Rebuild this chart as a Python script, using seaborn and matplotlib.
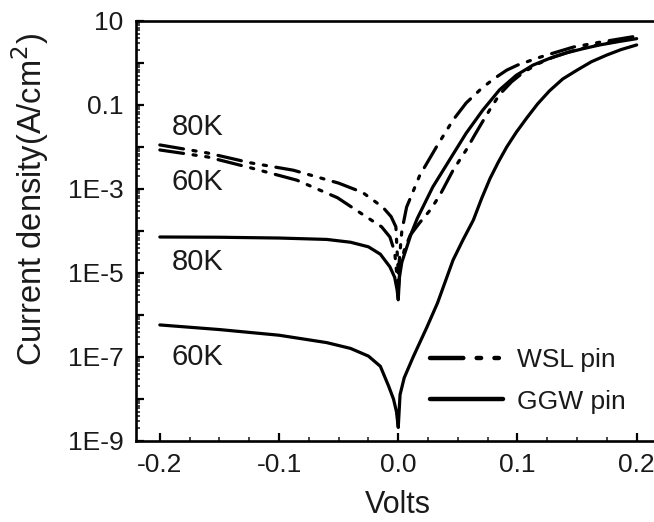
import numpy as np
import pandas as pd
import matplotlib
matplotlib.use("Agg")
import matplotlib.pyplot as plt
from matplotlib.ticker import FixedLocator, FixedFormatter, LogLocator, MultipleLocator
import seaborn as sns

# ---- data ----
ggw80_v = [-0.2, -0.15, -0.1, -0.06, -0.04, -0.025, -0.015, -0.007, -0.003, -0.001, 0.0,
           0.001, 0.003, 0.007, 0.011, 0.016, 0.029, 0.043, 0.057, 0.071, 0.085,
           0.099, 0.113, 0.127, 0.141, 0.155, 0.169, 0.185, 0.2]
ggw80_j = [7.2e-5, 7.1e-5, 6.8e-5, 6.3e-5, 5.4e-5, 4.2e-5, 2.8e-5, 1.4e-5, 7.9e-6, 4.0e-6, 2.3e-6,
           7.9e-6, 1.8e-5, 4.0e-5, 8.9e-5, 2.0e-4, 1.12e-3, 4.9e-3, 2.14e-2, 7.6e-2, 0.23,
           0.51, 0.89, 1.29, 1.74, 2.19, 2.69, 3.24, 3.8]

ggw60_v = [-0.2, -0.15, -0.1, -0.06, -0.04, -0.025, -0.015, -0.008, -0.004, -0.0015, 0.0,
           0.0015, 0.005, 0.0125, 0.024, 0.033, 0.046, 0.0545, 0.063, 0.07, 0.077, 0.084,
           0.091, 0.099, 0.108, 0.117, 0.127, 0.138, 0.15, 0.162, 0.175, 0.187, 0.2]
ggw60_j = [5.8e-7, 4.5e-7, 3.3e-7, 2.2e-7, 1.6e-7, 1.05e-7, 6.0e-8, 2.0e-8, 1.0e-8, 5.0e-9, 2.1e-9,
           1.26e-8, 3.2e-8, 1.0e-7, 5.1e-7, 1.95e-6, 2.04e-5, 6.3e-5, 1.82e-4, 6.0e-4, 1.78e-3, 4.4e-3,
           1.0e-2, 2.24e-2, 5.0e-2, 0.107, 0.219, 0.417, 0.676, 1.07, 1.55, 2.09, 2.69]

wsl80_v = [-0.2, -0.16, -0.124, -0.088, -0.05, -0.03, -0.013, -0.006, -0.002, 0.0,
           0.0015, 0.003, 0.007, 0.018, 0.032, 0.046, 0.057, 0.07, 0.08, 0.091, 0.1,
           0.108, 0.117, 0.127, 0.147, 0.17, 0.2]
wsl80_j = [1.12e-2, 7.2e-3, 4.2e-3, 2.8e-3, 1.38e-3, 8.3e-4, 3.7e-4, 2.2e-4, 1.26e-4, 1.0e-5,
           3.2e-5, 1.0e-4, 3.7e-4, 2.1e-3, 1.0e-2, 4.4e-2, 0.112, 0.25, 0.417, 0.676, 0.89,
           1.07, 1.32, 1.62, 2.4, 3.16, 4.37]

wsl60_v = [-0.2, -0.16, -0.124, -0.085, -0.051, -0.026, -0.014, -0.007, -0.003, 0.0,
           0.0015, 0.005, 0.01, 0.018, 0.027, 0.035, 0.046, 0.057, 0.064, 0.07, 0.077,
           0.085, 0.095, 0.105, 0.117, 0.13, 0.145, 0.16, 0.18, 0.2]
wsl60_j = [8.5e-3, 5.8e-3, 3.2e-3, 1.62e-3, 6.2e-4, 2.1e-4, 1.26e-4, 7.2e-5, 3.2e-5, 4.0e-6,
           1.26e-5, 3.5e-5, 7.9e-5, 1.58e-4, 3.2e-4, 7.2e-4, 2.8e-3, 8.5e-3, 1.9e-2, 3.7e-2, 7.9e-2,
           0.178, 0.355, 0.60, 0.95, 1.38, 1.9, 2.45, 3.16, 4.17]

x_ticks = [-0.2, -0.1, 0.0, 0.1, 0.2]
x_ticklabels = ["-0.2", "-0.1", "0.0", "0.1", "0.2"]
y_ticks = [1e-9, 1e-8, 1e-7, 1e-6, 1e-5, 1e-4, 1e-3, 1e-2, 1e-1, 1, 10]
y_ticklabels = ["1E-9", "", "1E-7", "", "1E-5", "", "1E-3", "", "0.1", "", "10"]

temp_labels = ["80K", "60K", "80K", "60K"]
temp_label_x = [-0.19, -0.19, -0.19, -0.19]
temp_label_y = [3.0e-2, 1.5e-3, 1.8e-5, 1.0e-7]

# ---- figure ----
sns.set_theme(style="white")
plt.rcParams["font.family"] = ["Liberation Sans", "DejaVu Sans"]
txt = "#1a1a1a"

fig = plt.figure(figsize=(6.54, 5.22), dpi=100)
ax = fig.add_axes([136 / 654, 81 / 522, 524.5 / 654, 420 / 522])

wsl_dash = (7.5, 3.0, 1.0, 3.0, 1.0, 3.0)
curves = [
    (wsl80_v, wsl80_j, "WSL pin", True),
    (wsl60_v, wsl60_j, None, True),
    (ggw80_v, ggw80_j, "GGW pin", False),
    (ggw60_v, ggw60_j, None, False),
]
handles = {}
for v, j, lab, dashed in curves:
    df = pd.DataFrame({"V": v, "J": j})
    n_before = len(ax.lines)
    sns.lineplot(data=df, x="V", y="J", ax=ax, color="black", linewidth=2.3,
                 sort=False, estimator=None, legend=False)
    ln = ax.lines[n_before]
    if dashed:
        ln.set_dashes(wsl_dash)
        ln.set_dash_capstyle("round")
    ln.set_solid_capstyle("round")
    ln.set_solid_joinstyle("round")
    if lab is not None:
        handles[lab] = ln

ax.set_yscale("log")
ax.set_xlim(-0.22, 0.22)
ax.set_ylim(1e-9, 10)

ax.yaxis.set_major_locator(FixedLocator(y_ticks))
ax.yaxis.set_major_formatter(FixedFormatter(y_ticklabels))
ax.yaxis.set_minor_locator(LogLocator(base=10, subs=np.arange(2, 10), numticks=50))
ax.yaxis.set_minor_formatter(plt.NullFormatter())
ax.xaxis.set_major_locator(FixedLocator(x_ticks))
ax.xaxis.set_major_formatter(FixedFormatter(x_ticklabels))
ax.xaxis.set_minor_locator(MultipleLocator(0.025))

ax.tick_params(axis="both", which="major", direction="in", length=6, width=1.6,
               labelsize=19, colors="black", labelcolor=txt, left=True, bottom=True,
               top=False, right=False, pad=9)
ax.tick_params(axis="both", which="minor", direction="in", length=3, width=1.2,
               left=True, bottom=True, top=False, right=False)

for s in ["left", "bottom", "top"]:
    ax.spines[s].set_color("black")
    ax.spines[s].set_linewidth(1.9)
ax.spines["right"].set_visible(False)

ax.set_xlabel("Volts", fontsize=22, color=txt, labelpad=9)
ax.set_ylabel("Current density(A/cm$^2$)", fontsize=23.5, color=txt)
ax.yaxis.set_label_coords(-0.163, 0.575)

for t, xv, yv in zip(temp_labels, temp_label_x, temp_label_y):
    ax.text(xv, yv, t, fontsize=21, color=txt, ha="left", va="center")

leg = fig.legend([handles["WSL pin"], handles["GGW pin"]], ["WSL pin", "GGW pin"],
                 loc="center left", bbox_to_anchor=(430 / 654, 1 - 381 / 522),
                 bbox_transform=fig.transFigure, frameon=False, borderpad=0,
                 borderaxespad=0, fontsize=19, handlelength=2.75, handletextpad=0.55,
                 labelspacing=0.65, labelcolor=txt)
for h in leg.get_lines():
    h.set_linewidth(3.2)

fig.savefig("out.png", dpi=100)
